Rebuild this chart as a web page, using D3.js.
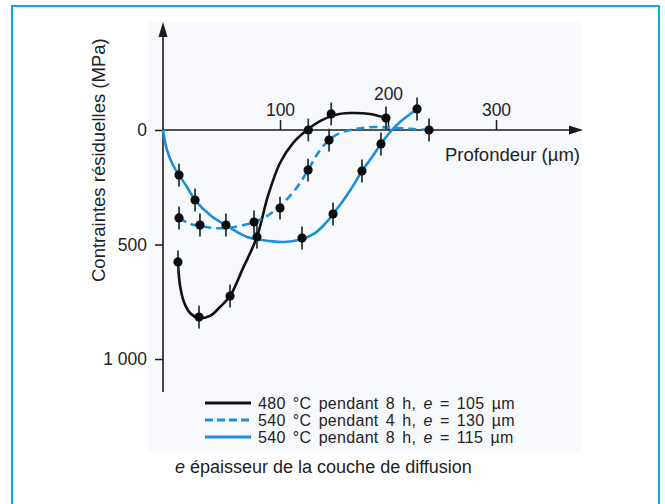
<!DOCTYPE html>
<html>
<head>
<meta charset="utf-8">
<script src="https://d3js.org/d3.v7.min.js"></script>
<style>
  body { margin: 0; background: #fff; }
  svg text { font-family: "Liberation Sans", Arial, sans-serif; fill: #222; }
</style>
</head>
<body>
<svg id="canvas" width="665" height="504"></svg>

<script>
  // measured points (depth in µm, stress in MPa, compression drawn downwards)
  let blackDepth = [12.8, 30.8, 57.3, 80.3, 126.2, 147.4, 198.1];
  let blackStress = [576, 817, 725, 467, 0, -70, -52];

  let dashDepth = [13.7, 31.6, 53.8, 77.8, 100, 126, 145.4, 238];
  let dashStress = [384, 415, 415, 402, 341, 175, 44, 0];

  let blueDepth = [13.7, 27.4, 120.4, 149.1, 175.9, 193.5, 226.9];
  let blueStress = [197, 306, 472, 367, 179, 61, -92];

  let errHalf = 50;

  // fitted curves
  let blackFitDepth = [12.8, 14.5, 17.9, 23.1, 30.8, 40.2, 48.7, 57.3, 68.4, 80.3, 89.7, 100, 112, 125, 137, 150.9, 164.8, 183.3, 198.1];
  let blackFitStress = [576, 677, 751, 799, 821, 812, 773, 725, 603, 467, 288, 144, 57, 0, -39, -66, -74, -70, -52];

  let dashFitDepth = [13.7, 23.1, 31.6, 42.7, 53.8, 65.8, 77.8, 88.9, 100, 113.9, 126, 135.2, 145.4, 155.6, 169.4, 187.9, 206.5, 238];
  let dashFitStress = [384, 410, 419, 428, 428, 419, 402, 376, 332, 262, 175, 100, 44, 13, -4, -13, -9, 0];

  let blueFitDepth = [0, 3.4, 8.5, 13.7, 20.5, 27.4, 40.2, 54.7, 71.8, 91.5, 104.6, 120.4, 132.4, 141.7, 149.1, 160.2, 169.4, 175.9, 185.2, 193.5, 201.9, 211.1, 226.9];
  let blueFitStress = [0, 87, 153, 197, 249, 306, 371, 419, 467, 485, 489, 476, 450, 410, 367, 297, 231, 179, 118, 61, 9, -35, -92];

  let xTicks = [100, 200, 300];
  let yTicks = [0, 500, 1000];
  let legendLabels = [
    ["480 °C pendant 8 h, ", "105 µm"],
    ["540 °C pendant 4 h, ", "130 µm"],
    ["540 °C pendant 8 h, ", "115 µm"],
  ];

  let black = "#111111";
  let blue = "#1b8fd8";

  let svg = d3.select("#canvas");

  // frame and faint panel
  svg.append("rect")
    .attr("x", 12).attr("y", 6).attr("width", 647).attr("height", 520)
    .attr("fill", "none").attr("stroke", "#00adef").attr("stroke-width", 2);
  svg.append("rect")
    .attr("x", 148).attr("y", 22).attr("width", 433).attr("height", 431)
    .attr("fill", "#f8f9fc");

  // scales
  let x = d3.scaleLinear().domain([0, 100, 300]).range([163, 280, 496]);
  let y = d3.scaleLinear().domain([0, 1000]).range([130, 359]);

  // axes
  let axisColor = "#1a1a1a";
  svg.append("line")
    .attr("x1", 163).attr("x2", 576).attr("y1", y(0)).attr("y2", y(0))
    .attr("stroke", axisColor).attr("stroke-width", 1.6);
  svg.append("path")
    .attr("d", "M583," + y(0) + " L569," + (y(0) - 4.5) + " L569," + (y(0) + 4.5) + " Z")
    .attr("fill", axisColor);
  svg.append("line")
    .attr("x1", x(0)).attr("x2", x(0)).attr("y1", 30).attr("y2", 392)
    .attr("stroke", axisColor).attr("stroke-width", 1.6);
  svg.append("path")
    .attr("d", "M" + x(0) + ",22 L" + (x(0) - 4.5) + ",37 L" + (x(0) + 4.5) + ",37 Z")
    .attr("fill", axisColor);

  let xAxis = svg.append("g")
    .attr("transform", "translate(0," + y(0) + ")")
    .call(d3.axisTop(x).tickValues(xTicks).tickSize(10).tickPadding(4).tickSizeOuter(0));
  xAxis.select(".domain").remove();
  xAxis.selectAll("line").attr("stroke", axisColor).attr("stroke-width", 1.5);
  xAxis.selectAll("text")
    .attr("font-size", 17.5).attr("fill", "#222")
    .attr("font-family", "Liberation Sans, Arial, sans-serif")
    .attr("y", d => (d === 200 ? -30 : -14));

  let yAxis = svg.append("g")
    .attr("transform", "translate(" + x(0) + ",0)")
    .call(d3.axisLeft(y).tickValues(yTicks).tickSize(8).tickPadding(8).tickSizeOuter(0)
      .tickFormat(d => (d === 1000 ? "1 000" : d)));
  yAxis.select(".domain").remove();
  yAxis.selectAll("line").attr("stroke", axisColor).attr("stroke-width", 1.5);
  yAxis.selectAll("text")
    .attr("font-size", 17.5).attr("fill", "#222")
    .attr("font-family", "Liberation Sans, Arial, sans-serif");

  // axis titles
  svg.append("text")
    .attr("x", 580).attr("y", 161)
    .attr("text-anchor", "end").attr("font-size", 18.5)
    .text("Profondeur (µm)");
  svg.append("text")
    .attr("transform", "translate(105,282) rotate(-90)")
    .attr("font-size", 18.5)
    .text("Contraintes résiduelles (MPa)");

  // curves
  let line = d3.line()
    .x(d => x(d[0]))
    .y(d => y(d[1]))
    .curve(d3.curveCatmullRom.alpha(0.5));

  let curves = [
    { depth: blackFitDepth, stress: blackFitStress, color: black, dash: null },
    { depth: dashFitDepth, stress: dashFitStress, color: blue, dash: "8,5" },
    { depth: blueFitDepth, stress: blueFitStress, color: blue, dash: null },
  ];
  curves.forEach(c => {
    svg.append("path")
      .attr("d", line(d3.zip(c.depth, c.stress)))
      .attr("fill", "none")
      .attr("stroke", c.color)
      .attr("stroke-width", 2.6)
      .attr("stroke-dasharray", c.dash);
  });

  // points with error bars
  let points = d3.zip(blackDepth, blackStress)
    .concat(d3.zip(dashDepth, dashStress))
    .concat(d3.zip(blueDepth, blueStress));

  svg.selectAll(".err")
    .data(points)
    .join("line")
    .attr("class", "err")
    .attr("x1", d => x(d[0])).attr("x2", d => x(d[0]))
    .attr("y1", d => y(d[1] - errHalf)).attr("y2", d => y(d[1] + errHalf))
    .attr("stroke", "#2b3a40").attr("stroke-width", 1.8);

  svg.selectAll(".pt")
    .data(points)
    .join("circle")
    .attr("class", "pt")
    .attr("cx", d => x(d[0])).attr("cy", d => y(d[1]))
    .attr("r", 4.6)
    .attr("fill", "#0d0d0d");

  // legend
  let legend = svg.append("g");
  let legendStyles = [
    { color: black, dash: null },
    { color: blue, dash: "8,4" },
    { color: blue, dash: null },
  ];
  legendLabels.forEach((lab, i) => {
    let ly = 403 + i * 17;
    legend.append("line")
      .attr("x1", 205).attr("x2", 251).attr("y1", ly).attr("y2", ly)
      .attr("stroke", legendStyles[i].color).attr("stroke-width", 2.8)
      .attr("stroke-dasharray", legendStyles[i].dash);
    let t = legend.append("text")
      .attr("x", 258).attr("y", ly + 6)
      .attr("font-size", 16)
      .attr("word-spacing", 2.5)
      .attr("letter-spacing", 0.3);
    t.append("tspan").text(lab[0]);
    t.append("tspan").attr("font-style", "italic").text("e");
    t.append("tspan").text(" = " + lab[1]);
  });

  // caption
  let cap = svg.append("text")
    .attr("x", 175).attr("y", 473)
    .attr("font-size", 18);
  cap.append("tspan").attr("font-style", "italic").text("e");
  cap.append("tspan").text(" épaisseur de la couche de diffusion");
</script>
</body>
</html>
